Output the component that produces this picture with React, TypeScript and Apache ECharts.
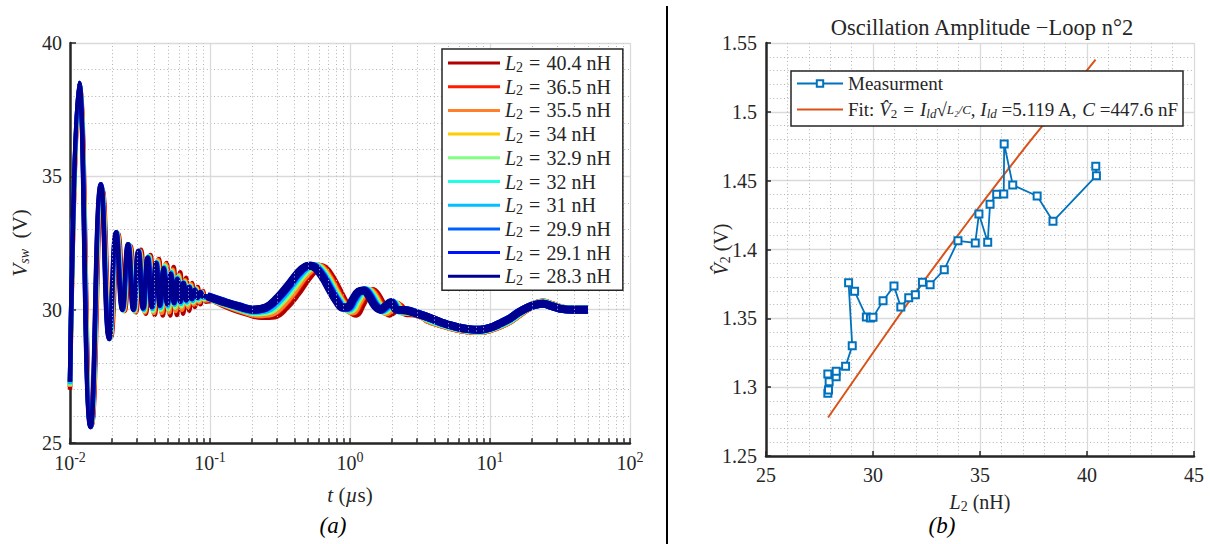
import React, { useEffect, useRef } from "react";
import * as echarts from "echarts";

const SERIF = "'Liberation Serif', 'Times New Roman', serif";
const INK = "#262626";

// ---------- Left panel: V_sw(t) for several L2 ----------
const L2_VALUES = [40.4, 36.5, 35.5, 34, 32.9, 32, 31, 29.9, 29.1, 28.3];
const CURVE_COLORS = ["#b00000", "#ff1a00", "#ff7f2a", "#ffcc00", "#80ff80", "#1fffe6", "#00c0ff", "#0060ff", "#0010ff", "#000090"];

// early ringing: extrema times (µs)
const tE_404 = [0.0100, 0.01176, 0.01432, 0.01708, 0.01964, 0.0221, 0.02456, 0.02702, 0.02958, 0.03214, 0.0348, 0.03756, 0.04032, 0.04318, 0.04604, 0.049, 0.05196, 0.05502, 0.05808, 0.06124, 0.0644, 0.06766, 0.07102, 0.07448, 0.07804, 0.0817, 0.08546, 0.08932, 0.09348];
const tE_365 = [0.0100, 0.01172, 0.01424, 0.01696, 0.01948, 0.0219, 0.02432, 0.02674, 0.02926, 0.03178, 0.0344, 0.03712, 0.03984, 0.04266, 0.04548, 0.0484, 0.05132, 0.05434, 0.05736, 0.06048, 0.0636, 0.06682, 0.07014, 0.07356, 0.07708, 0.0807, 0.08442, 0.08824, 0.09236];
const tE_355 = [0.0100, 0.0117, 0.0142, 0.0169, 0.0194, 0.0218, 0.0242, 0.0266, 0.0291, 0.0316, 0.0342, 0.0369, 0.0396, 0.0424, 0.0452, 0.0481, 0.0510, 0.0540, 0.0570, 0.0601, 0.0632, 0.0664, 0.0697, 0.0731, 0.0766, 0.0802, 0.0839, 0.0877, 0.0918];
const tE_340 = [0.0100, 0.01168, 0.01416, 0.01684, 0.01932, 0.0217, 0.02408, 0.02646, 0.02894, 0.03142, 0.034, 0.03668, 0.03936, 0.04214, 0.04492, 0.0478, 0.05068, 0.05366, 0.05664, 0.05972, 0.0628, 0.06598, 0.06926, 0.07264, 0.07612, 0.0797, 0.08338, 0.08716, 0.09124];
const tE_329 = [0.0100, 0.01166, 0.01412, 0.01678, 0.01924, 0.0216, 0.02396, 0.02632, 0.02878, 0.03124, 0.0338, 0.03646, 0.03912, 0.04188, 0.04464, 0.0475, 0.05036, 0.05332, 0.05628, 0.05934, 0.0624, 0.06556, 0.06882, 0.07218, 0.07564, 0.0792, 0.08286, 0.08662, 0.09068];
const tE_320 = [0.0100, 0.01165, 0.0141, 0.01675, 0.0192, 0.02155, 0.0239, 0.02625, 0.0287, 0.03115, 0.0337, 0.03635, 0.039, 0.04175, 0.0445, 0.04735, 0.0502, 0.05315, 0.0561, 0.05915, 0.0622, 0.06535, 0.0686, 0.07195, 0.0754, 0.07895, 0.0826, 0.08635, 0.0904];
const tE_310 = [0.0100, 0.01164, 0.01408, 0.01672, 0.01916, 0.0215, 0.02384, 0.02618, 0.02862, 0.03106, 0.0336, 0.03624, 0.03888, 0.04162, 0.04436, 0.0472, 0.05004, 0.05298, 0.05592, 0.05896, 0.062, 0.06514, 0.06838, 0.07172, 0.07516, 0.0787, 0.08234, 0.08608, 0.09012];
const tE_299 = [0.0100, 0.01163, 0.01406, 0.01669, 0.01912, 0.02145, 0.02378, 0.02611, 0.02854, 0.03097, 0.0335, 0.03613, 0.03876, 0.04149, 0.04422, 0.04705, 0.04988, 0.05281, 0.05574, 0.05877, 0.0618, 0.06493, 0.06816, 0.07149, 0.07492, 0.07845, 0.08208, 0.08581, 0.08984];
const tE_291 = [0.0100, 0.011615, 0.01403, 0.016645, 0.01906, 0.021375, 0.02369, 0.026005, 0.02842, 0.030835, 0.03335, 0.035965, 0.03858, 0.041295, 0.04401, 0.046825, 0.04964, 0.052555, 0.05547, 0.058485, 0.0615, 0.064615, 0.06783, 0.071145, 0.07456, 0.078075, 0.08169, 0.085405, 0.08942];
const tE_283 = [0.0100, 0.0116, 0.0140, 0.0166, 0.0190, 0.0213, 0.0236, 0.0259, 0.0283, 0.0307, 0.0332, 0.0358, 0.0384, 0.0411, 0.0438, 0.0466, 0.0494, 0.0523, 0.0552, 0.0582, 0.0612, 0.0643, 0.0675, 0.0708, 0.0742, 0.0777, 0.0813, 0.0850, 0.0890];

// early ringing: extrema values (V)
const vE_high = [27.0, 38.3, 25.7, 34.5, 28.95, 32.85, 29.95, 32.4, 29.9, 32.25, 29.85, 32.05, 29.8, 31.9, 29.78, 31.75, 29.78, 31.6, 29.8, 31.4, 29.85, 31.2, 29.95, 31.0, 30.1, 30.85, 30.2, 30.7, 30.3];
const vE_upper = [27.1, 38.35, 25.65, 34.55, 28.95, 32.85, 29.95, 32.4, 29.92, 32.2, 29.9, 32.0, 29.88, 31.85, 29.88, 31.7, 29.9, 31.5, 29.95, 31.3, 30.0, 31.1, 30.1, 30.95, 30.2, 30.8, 30.28, 30.68, 30.35];
const vE_mid = [27.15, 38.4, 25.65, 34.6, 28.9, 32.9, 29.97, 32.42, 29.95, 32.2, 29.95, 32.0, 29.95, 31.8, 30.0, 31.65, 30.02, 31.45, 30.08, 31.25, 30.12, 31.05, 30.2, 30.9, 30.28, 30.78, 30.35, 30.66, 30.4];
const vE_lower = [27.2, 38.45, 25.62, 34.65, 28.9, 32.9, 29.98, 32.45, 29.98, 32.2, 30.0, 31.98, 30.03, 31.78, 30.08, 31.6, 30.12, 31.4, 30.18, 31.2, 30.22, 31.02, 30.28, 30.88, 30.33, 30.76, 30.4, 30.65, 30.45];
const vE_low = [27.3, 38.5, 25.6, 34.7, 28.9, 32.9, 30.0, 32.45, 30.0, 32.2, 30.05, 31.95, 30.1, 31.75, 30.15, 31.55, 30.2, 31.35, 30.25, 31.15, 30.3, 31.0, 30.35, 30.85, 30.4, 30.75, 30.45, 30.65, 30.5];

// slow dynamics: times (µs)
const tS_404 = [0.110, 0.139, 0.186, 0.232, 0.290, 0.348, 0.418, 0.487, 0.557, 0.603, 0.661, 0.742, 0.835, 0.928, 1.021, 1.102, 1.218, 1.334, 1.450, 1.566, 1.740, 1.914, 2.088, 2.262, 2.494, 2.900, 3.480];
const tS_365 = [0.1064, 0.1344, 0.1792, 0.224, 0.28, 0.336, 0.4032, 0.4704, 0.5376, 0.5824, 0.6384, 0.7168, 0.8064, 0.896, 0.9856, 1.064, 1.176, 1.288, 1.4, 1.512, 1.68, 1.848, 2.016, 2.184, 2.408, 2.8, 3.36];
const tS_355 = [0.1045, 0.132, 0.176, 0.22, 0.275, 0.33, 0.396, 0.462, 0.528, 0.572, 0.627, 0.704, 0.792, 0.88, 0.968, 1.045, 1.155, 1.265, 1.375, 1.485, 1.65, 1.815, 1.98, 2.145, 2.365, 2.75, 3.3];
const tS_340 = [0.1026, 0.1296, 0.1728, 0.216, 0.27, 0.324, 0.3888, 0.4536, 0.5184, 0.5616, 0.6156, 0.6912, 0.7776, 0.864, 0.9504, 1.026, 1.134, 1.242, 1.35, 1.458, 1.62, 1.782, 1.944, 2.106, 2.322, 2.7, 3.24];
const tS_329 = [0.1012, 0.1278, 0.1704, 0.213, 0.2663, 0.3195, 0.3834, 0.4473, 0.5112, 0.5538, 0.6071, 0.6816, 0.7668, 0.852, 0.9372, 1.0118, 1.1183, 1.2248, 1.3313, 1.4378, 1.5975, 1.7573, 1.917, 2.0768, 2.2898, 2.6625, 3.195];
const tS_320 = [0.0998, 0.126, 0.168, 0.21, 0.2625, 0.315, 0.378, 0.441, 0.504, 0.546, 0.5985, 0.672, 0.756, 0.84, 0.924, 0.9975, 1.1025, 1.2075, 1.3125, 1.4175, 1.575, 1.7325, 1.89, 2.0475, 2.2575, 2.625, 3.15];
const tS_310 = [0.0983, 0.1242, 0.1656, 0.207, 0.2588, 0.3105, 0.3726, 0.4347, 0.4968, 0.5382, 0.59, 0.6624, 0.7452, 0.828, 0.9108, 0.9833, 1.0868, 1.1903, 1.2938, 1.3973, 1.5525, 1.7078, 1.863, 2.0183, 2.2253, 2.5875, 3.105];
const tS_299 = [0.0971, 0.1226, 0.1635, 0.2044, 0.2555, 0.3066, 0.3679, 0.4292, 0.4906, 0.5314, 0.5825, 0.6541, 0.7358, 0.8176, 0.8994, 0.9709, 1.0731, 1.1753, 1.2775, 1.3797, 1.533, 1.6863, 1.8396, 1.9929, 2.1973, 2.555, 3.066];
const tS_291 = [0.096, 0.1212, 0.1616, 0.202, 0.2525, 0.303, 0.3636, 0.4242, 0.4848, 0.5252, 0.5757, 0.6464, 0.7272, 0.808, 0.8888, 0.9595, 1.0605, 1.1615, 1.2625, 1.3635, 1.515, 1.6665, 1.818, 1.9695, 2.1715, 2.525, 3.03];
const tS_283 = [0.095, 0.12, 0.16, 0.20, 0.25, 0.30, 0.36, 0.42, 0.48, 0.52, 0.57, 0.64, 0.72, 0.80, 0.88, 0.95, 1.05, 1.15, 1.25, 1.35, 1.5, 1.65, 1.8, 1.95, 2.15, 2.5, 3.0];

// slow dynamics: values (V)
const vS_high = [30.35, 30.1, 29.88, 29.76, 29.78, 30.1, 30.6, 31.1, 31.48, 31.6, 31.55, 31.2, 30.7, 30.25, 29.95, 29.85, 30.2, 30.58, 30.7, 30.55, 30.12, 29.85, 29.98, 30.12, 29.88, 29.85, 29.7];
const vS_upper = [30.4, 30.18, 29.95, 29.83, 29.88, 30.2, 30.7, 31.2, 31.52, 31.62, 31.55, 31.2, 30.7, 30.28, 30.0, 29.93, 30.27, 30.62, 30.7, 30.55, 30.13, 29.9, 30.05, 30.18, 29.92, 29.9, 29.75];
const vS_mid = [30.44, 30.24, 30.02, 29.9, 29.96, 30.3, 30.78, 31.26, 31.56, 31.63, 31.55, 31.2, 30.71, 30.3, 30.03, 30.0, 30.33, 30.65, 30.71, 30.55, 30.14, 29.95, 30.1, 30.22, 29.95, 29.93, 29.8];
const vS_lower = [30.47, 30.28, 30.07, 29.95, 30.02, 30.36, 30.85, 31.3, 31.6, 31.64, 31.55, 31.2, 30.72, 30.31, 30.06, 30.04, 30.37, 30.67, 30.72, 30.55, 30.15, 29.98, 30.12, 30.25, 29.98, 29.96, 29.83];
const vS_low = [30.5, 30.32, 30.12, 30.0, 30.08, 30.42, 30.9, 31.35, 31.62, 31.65, 31.55, 31.2, 30.72, 30.32, 30.08, 30.08, 30.4, 30.68, 30.72, 30.55, 30.15, 30.0, 30.15, 30.28, 30.0, 29.98, 29.85];

// long tail (µs, V)
const tL = [3.6, 4.5, 5.5, 7, 8.5, 10, 12, 14, 16, 18.5, 21, 24, 28, 33, 40, 50];
const vL_high = [29.62, 29.45, 29.32, 29.22, 29.2, 29.27, 29.42, 29.6, 29.82, 30.05, 30.2, 30.27, 30.16, 30.04, 30.0, 30.0];
const vL_mid = [29.67, 29.48, 29.35, 29.25, 29.22, 29.3, 29.46, 29.64, 29.86, 30.07, 30.19, 30.25, 30.14, 30.03, 30.0, 30.0];
const vL_low = [29.72, 29.52, 29.38, 29.27, 29.25, 29.32, 29.5, 29.68, 29.9, 30.08, 30.18, 30.22, 30.12, 30.02, 30.0, 30.0];

const LOG_MINOR = [0.02, 0.03, 0.04, 0.05, 0.06, 0.07, 0.08, 0.09, 0.2, 0.3, 0.4, 0.5, 0.6, 0.7, 0.8, 0.9, 2, 3, 4, 5, 6, 7, 8, 9, 20, 30, 40, 50, 60, 70, 80, 90];

// ---------- Right panel: oscillation amplitude ----------
const L2_MEAS = [27.89, 27.92, 27.95, 27.89, 28.28, 28.28, 28.72, 29.03, 28.86, 29.14, 29.69, 29.88, 30.0, 30.47, 30.98, 31.3, 31.67, 31.98, 32.31, 32.67, 33.33, 33.97, 34.78, 34.95, 35.36, 35.47, 35.78, 36.11, 36.13, 36.53, 37.67, 38.41, 40.44, 40.41];
const V2_MEAS = [1.2955, 1.298, 1.304, 1.3095, 1.3075, 1.3116, 1.3152, 1.33, 1.3758, 1.3696, 1.351, 1.3502, 1.3507, 1.3628, 1.3734, 1.3582, 1.365, 1.3671, 1.3763, 1.3744, 1.3853, 1.4063, 1.4048, 1.4258, 1.4053, 1.4329, 1.4401, 1.4403, 1.4766, 1.4469, 1.4389, 1.4205, 1.4536, 1.4604];
const L2_FIT = [27.9, 30, 32, 34, 36, 38, 40.4];
const V2_FIT = [1.278, 1.325, 1.369, 1.411, 1.452, 1.4915, 1.538];

const CURVES = [
  { tE: tE_404, vE: vE_high, tS: tS_404, vS: vS_high, vL: vL_high },
  { tE: tE_365, vE: vE_upper, tS: tS_365, vS: vS_upper, vL: vL_high },
  { tE: tE_355, vE: vE_upper, tS: tS_355, vS: vS_upper, vL: vL_high },
  { tE: tE_340, vE: vE_mid, tS: tS_340, vS: vS_mid, vL: vL_mid },
  { tE: tE_329, vE: vE_mid, tS: tS_329, vS: vS_mid, vL: vL_mid },
  { tE: tE_320, vE: vE_lower, tS: tS_320, vS: vS_lower, vL: vL_mid },
  { tE: tE_310, vE: vE_lower, tS: tS_310, vS: vS_lower, vL: vL_low },
  { tE: tE_299, vE: vE_low, tS: tS_299, vS: vS_low, vL: vL_low },
  { tE: tE_291, vE: vE_low, tS: tS_291, vS: vS_low, vL: vL_low },
  { tE: tE_283, vE: vE_low, tS: tS_283, vS: vS_low, vL: vL_low },
];

const zip = (a: number[], b: number[]) => a.map((x, i) => [x, b[i]]);
const curveName = (L: number) => `L2 = ${L} nH`;
const FIT_NAME = "Fit";
const MEAS_NAME = "Measurment";

const dotted = { color: "#b4b4b4", width: 1, type: [1, 2.6] as any };
const major = { color: "#dadada", width: 1.3 };
const axisLineStyle = { color: INK, width: 2.5 };
const tickStyle = { color: INK, width: 1.5 };

const richMath = (size: number, lh = 20) => ({
  i: { fontFamily: SERIF, fontStyle: "italic", fontSize: size, color: INK, lineHeight: lh },
  s: { fontFamily: SERIF, fontStyle: "normal", fontSize: Math.round(size * 0.68), color: INK, lineHeight: 12, padding: [8, 0, 0, 0] },
  si: { fontFamily: SERIF, fontStyle: "italic", fontSize: Math.round(size * 0.68), color: INK, lineHeight: 12, padding: [8, 0, 0, 0] },
  n: { fontFamily: SERIF, fontSize: size, color: INK, lineHeight: lh },
  e: { fontFamily: SERIF, fontSize: size, color: INK, lineHeight: lh, padding: [0, 6, 0, 6] },
  f: { fontFamily: SERIF, fontStyle: "italic", fontSize: Math.round(size * 0.7), color: INK, lineHeight: lh },
});

function buildOption() {
  const series: any[] = [];
  // log-axis decorations: minor dotted grid lines and minor ticks
  series.push({
    type: "line",
    name: "__minor",
    xAxisIndex: 0,
    yAxisIndex: 0,
    data: [],
    silent: true,
    z: 1,
    markLine: {
      silent: true,
      symbol: ["none", "none"],
      label: { show: false },
      lineStyle: dotted,
      data: LOG_MINOR.map((x) => ({ xAxis: x })),
    },
  });
  series.push({
    type: "line",
    name: "__ticks",
    xAxisIndex: 0,
    yAxisIndex: 0,
    data: [],
    silent: true,
    z: 5,
    markLine: {
      silent: true,
      symbol: ["none", "none"],
      label: { show: false },
      lineStyle: { color: INK, width: 1.5, type: "solid" },
      data: LOG_MINOR.map((x) => [{ coord: [x, 25] }, { coord: [x, 25.18] }]),
    },
  });
  CURVES.forEach((c, k) => {
    const early = zip(c.tE, c.vE);
    early.push([c.tS[0], c.vS[0]]);
    series.push({
      type: "line",
      name: curveName(L2_VALUES[k]),
      xAxisIndex: 0,
      yAxisIndex: 0,
      data: early,
      showSymbol: false,
      symbol: "none",
      smooth: 0.5,
      color: CURVE_COLORS[k],
      lineStyle: { width: 4.5, color: CURVE_COLORS[k] },
      z: 2,
    });
  });
  CURVES.forEach((c, k) => {
    const late = zip(c.tS, c.vS).concat(zip(tL, c.vL));
    series.push({
      type: "line",
      name: curveName(L2_VALUES[k]),
      xAxisIndex: 0,
      yAxisIndex: 0,
      data: late,
      showSymbol: false,
      symbol: "none",
      smooth: 0.4,
      color: CURVE_COLORS[k],
      lineStyle: { width: 8, color: CURVE_COLORS[k] },
      z: 2,
    });
  });
  series.push({
    type: "line",
    name: FIT_NAME,
    xAxisIndex: 1,
    yAxisIndex: 1,
    data: zip(L2_FIT, V2_FIT),
    showSymbol: false,
    symbol: "none",
    smooth: true,
    color: "#D95319",
    lineStyle: { width: 2, color: "#D95319" },
    z: 2,
  });
  series.push({
    type: "line",
    name: MEAS_NAME,
    xAxisIndex: 1,
    yAxisIndex: 1,
    data: zip(L2_MEAS, V2_MEAS),
    symbol: "emptyRect",
    symbolSize: 7,
    showSymbol: true,
    color: "#0072BD",
    lineStyle: { width: 1.8, color: "#0072BD" },
    itemStyle: { color: "#0072BD", borderColor: "#0072BD", borderWidth: 2 },
    z: 3,
  });

  return {
    animation: false,
    backgroundColor: "#ffffff",
    textStyle: { fontFamily: SERIF, color: INK },
    title: {
      text: "Oscillation Amplitude −Loop n°2",
      left: 977,
      top: 11,
      textAlign: "center",
      textStyle: { fontFamily: SERIF, fontWeight: "normal", fontSize: 22.5, color: INK },
    },
    grid: [
      { left: 70, top: 43, width: 560, height: 400, containLabel: false },
      { left: 766, top: 43, width: 428, height: 413, containLabel: false },
    ],
    xAxis: [
      {
        type: "log",
        logBase: 10,
        gridIndex: 0,
        min: 0.01,
        max: 100,
        axisLine: { show: true, onZero: false, lineStyle: axisLineStyle },
        axisTick: { show: true, inside: true, length: 5, lineStyle: tickStyle },
        splitLine: { show: true, lineStyle: major },
        axisLabel: {
          margin: 10,
          formatter: (v: number) => `{b|10}{p|${Math.round(Math.log10(v))}}`,
          rich: {
            b: { fontFamily: SERIF, fontSize: 20, color: INK, lineHeight: 20 },
            p: { fontFamily: SERIF, fontSize: 14, color: INK, lineHeight: 12, padding: [0, 0, 12, 0] },
          },
        },
        name: "{i|t}{n| (}{i|µ}{n|s)}",
        nameLocation: "middle",
        nameGap: 42,
        nameMoveOverlap: false,
        nameTextStyle: { rich: richMath(21) },
      },
      {
        type: "value",
        gridIndex: 1,
        min: 25,
        max: 45,
        interval: 5,
        axisLine: { show: true, onZero: false, lineStyle: axisLineStyle },
        axisTick: { show: true, inside: true, length: 5, lineStyle: tickStyle },
        minorTick: { show: false, splitNumber: 5 },
        splitLine: { show: true, lineStyle: major },
        minorSplitLine: { show: true, lineStyle: dotted },
        axisLabel: { margin: 9, fontFamily: SERIF, fontSize: 20, color: INK },
        name: "{i|L}{s|2}{n| (nH)}",
        nameLocation: "middle",
        nameGap: 36,
        nameMoveOverlap: false,
        nameTextStyle: { rich: richMath(20) },
      },
    ],
    yAxis: [
      {
        type: "value",
        gridIndex: 0,
        min: 25,
        max: 40,
        interval: 5,
        axisLine: { show: true, onZero: false, lineStyle: axisLineStyle },
        axisTick: { show: true, inside: true, length: 6, lineStyle: tickStyle },
        minorTick: { show: false, splitNumber: 5 },
        splitLine: { show: true, lineStyle: major },
        minorSplitLine: { show: true, lineStyle: dotted },
        axisLabel: { margin: 8, fontFamily: SERIF, fontSize: 20, color: INK },
        name: "{i|V}{si|sw}{n|  (V)}",
        nameLocation: "middle",
        nameRotate: 90,
        nameGap: 40,
        nameMoveOverlap: false,
        nameTextStyle: { rich: richMath(21) },
      },
      {
        type: "value",
        gridIndex: 1,
        min: 1.25,
        max: 1.55,
        interval: 0.05,
        axisLine: { show: true, onZero: false, lineStyle: axisLineStyle },
        axisTick: { show: true, inside: true, length: 5, lineStyle: tickStyle },
        minorTick: { show: false, splitNumber: 5 },
        splitLine: { show: true, lineStyle: major },
        minorSplitLine: { show: true, lineStyle: dotted },
        axisLabel: { margin: 9, fontFamily: SERIF, fontSize: 20, color: INK },
        name: "{i|V̂}{s|2}{n| (V)}",
        nameLocation: "middle",
        nameRotate: 90,
        nameGap: 35,
        nameMoveOverlap: false,
        nameTextStyle: { rich: richMath(20) },
      },
    ],
    legend: [
      {
        orient: "vertical",
        left: 442,
        top: 49,
        data: L2_VALUES.map((L) => curveName(L)),
        icon: "rect",
        itemWidth: 52,
        itemHeight: 3,
        itemGap: 1.7,
        itemTextGap: 5,
        padding: [3, 12, 3, 6],
        backgroundColor: "#ffffff",
        borderColor: INK,
        borderWidth: 1.5,
        borderRadius: 0,
        selectedMode: false,
        z: 10,
        formatter: (name: string) => `{i|L}{s|2}{e|=}{n|${name.split("= ")[1]}}`,
        textStyle: { fontFamily: SERIF, fontSize: 20, color: INK, rich: richMath(20) },
      },
      {
        orient: "vertical",
        left: 791,
        top: 71,
        data: [
          { name: MEAS_NAME },
          { name: FIT_NAME, icon: "path://M0,0 M46,8 M0,3 L46,3 L46,5 L0,5 Z", itemStyle: { color: "#D95319" } },
        ],
        itemWidth: 46,
        itemHeight: 8,
        itemGap: 6,
        itemTextGap: 5,
        padding: [3, 5, 6, 5],
        backgroundColor: "#ffffff",
        borderColor: INK,
        borderWidth: 1.5,
        borderRadius: 0,
        selectedMode: false,
        z: 10,
        formatter: (name: string) =>
          name === FIT_NAME
            ? `{n|Fit: }{i|V̂}{s|2}{e|=}{i|I}{si|ld}{n|√}{f|L₂/C}{n|, }{i|I}{si|ld}{n| =5.119 A, }{i|C}{n| =447.6 nF}`
            : `{n|${name}}`,
        textStyle: { fontFamily: SERIF, fontSize: 19, color: INK, rich: richMath(19) },
      },
    ],
    graphic: [
      { type: "line", shape: { x1: 667, y1: 6, x2: 667, y2: 544 }, style: { stroke: "#000", lineWidth: 2 } },
      { type: "text", x: 333, y: 525, style: { text: "(a)", fontFamily: SERIF, fontStyle: "italic", fontSize: 23, fill: "#000", textAlign: "center", textVerticalAlign: "middle" } },
      { type: "text", x: 942, y: 525, style: { text: "(b)", fontFamily: SERIF, fontStyle: "italic", fontSize: 23, fill: "#000", textAlign: "center", textVerticalAlign: "middle" } },
    ],
    series,
  };
}

export default function App() {
  const ref = useRef<HTMLDivElement>(null);
  useEffect(() => {
    document.body.style.margin = "0";
    const chart = echarts.init(ref.current as HTMLDivElement, null, { renderer: "svg" });
    chart.setOption(buildOption() as any);
    return () => chart.dispose();
  }, []);
  return <div ref={ref} style={{ width: 1210, height: 544, background: "#fff" }} />;
}
